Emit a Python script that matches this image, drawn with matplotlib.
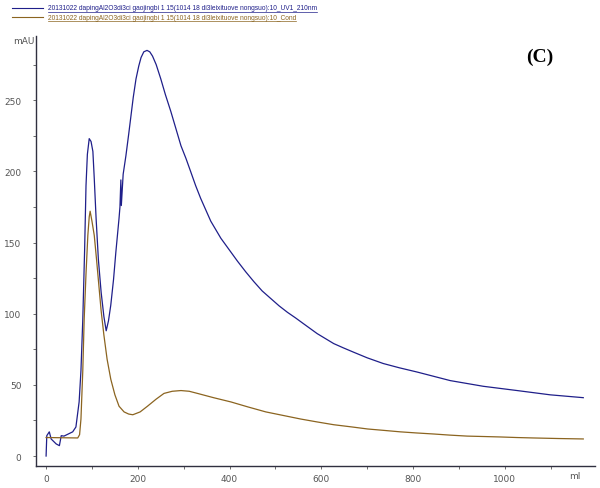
import matplotlib
matplotlib.use('Agg')
import matplotlib.pyplot as plt
from matplotlib.lines import Line2D
from matplotlib.ticker import MultipleLocator

# UV 210 nm trace (ml, mAU)
uv_ml = [0, 1.5, 7, 11, 22, 29, 33, 39, 58, 65, 72, 76, 80, 84, 87, 90, 94, 98, 102,
         105, 109, 114, 120, 126, 131, 136, 141, 147, 152, 159, 161, 163, 164, 168,
         174, 180, 185, 190, 196, 202, 207, 213, 220, 226, 232, 240, 250, 260, 272,
         283, 294, 305, 315, 326, 337, 348, 359, 370, 381, 399, 417, 435, 453, 471,
         490, 508, 526, 544, 561, 576, 591, 609, 627, 648, 670, 700, 735, 770, 809,
         845, 881, 917, 953, 990, 1027, 1063, 1099, 1135, 1171]
uv_mau = [0, 14.3, 17, 12, 8.5, 7.3, 14.3, 14, 17, 20.4, 38, 60, 96, 145, 190, 212,
          223, 221, 214, 195, 167, 138, 115, 98, 88, 95, 106, 124, 143, 167, 175, 194,
          176, 198, 211, 226, 239, 252, 265, 274, 280, 284, 285, 284, 281, 275, 265,
          254, 242, 230, 218, 209, 200, 190, 181, 173, 165, 159, 153, 145, 137, 129.5,
          122.5, 116, 110.6, 105.5, 101, 97, 93, 89.5, 86, 82.5, 79, 76, 73, 69, 65,
          62, 59, 56, 53, 51, 49, 47.5, 46, 44.5, 43, 42, 41]

# conductivity trace
cond_ml = [0, 69, 73, 76, 80, 83, 87, 91, 94, 96, 100, 105, 110, 115, 120, 126, 133,
           141, 150, 159, 170, 180, 189, 205, 221, 240, 257, 275, 294, 312, 330, 365,
           403, 440, 479, 517, 555, 590, 627, 665, 701, 737, 772, 808, 844, 880, 918,
           955, 990, 1026, 1062, 1117, 1171]
cond_val = [13, 12.7, 15, 26, 60, 96, 128, 155, 168, 172, 165, 155, 138, 120, 102, 85,
            68, 54, 43, 35, 31, 29.5, 29, 31, 35, 40, 44, 45.5, 46, 45.5, 44, 41, 38,
            34.5, 31, 28.5, 26, 24, 22, 20.5, 19, 18, 17, 16.2, 15.5, 14.7, 14, 13.7,
            13.4, 13, 12.7, 12.3, 12]

x_ticks = [0, 200, 400, 600, 800, 1000]
y_ticks = [0, 50, 100, 150, 200, 250]
uv_name = '20131022 dapingAl2O3di3ci gaojingbi 1 15(1014 18 di3leixituove nongsuo):10_UV1_210nm'
cond_name = '20131022 dapingAl2O3di3ci gaojingbi 1 15(1014 18 di3leixituove nongsuo):10_Cond'

uv_color = '#1f1f8a'
cond_color = '#8b6420'

fig = plt.figure(figsize=(6.0, 4.89), dpi=100)
ax = fig.add_axes([0.06, 0.045, 0.932, 0.879])

ax.plot(uv_ml, uv_mau, color=uv_color, lw=0.9)
ax.plot(cond_ml, cond_val, color=cond_color, lw=0.9)

ax.set_xlim(-22, 1197)
ax.set_ylim(-7, 295)
ax.set_xticks(x_ticks)
ax.set_yticks(y_ticks)
ax.xaxis.set_minor_locator(MultipleLocator(100))
ax.yaxis.set_minor_locator(MultipleLocator(25))
for s in ['top', 'right']:
    ax.spines[s].set_visible(False)
for s in ['left', 'bottom']:
    ax.spines[s].set_color('#303040')
    ax.spines[s].set_linewidth(1.0)
ax.tick_params(axis='both', which='both', direction='out', colors='#555555',
               labelsize=6.5, length=2.5, width=0.6)
ax.tick_params(axis='y', pad=8)
ax.tick_params(axis='x', pad=3)

fig.text(13 / 600, 1 - 42 / 489, 'mAU', fontsize=6.5, color='#555555', va='center')
fig.text(575 / 600, 1 - 477 / 489, 'ml', fontsize=6.5, color='#555555', ha='center', va='center')
fig.text(540 / 600, 1 - 57 / 489, '(C)', fontsize=14, fontweight='bold',
         family='Liberation Serif', ha='center', va='center')

# legend lines with underlined names
texts = []
for yy, name, col in [(9, uv_name, uv_color), (18, cond_name, cond_color)]:
    fy = 1 - yy / 489
    fig.add_artist(Line2D([12 / 600, 43 / 600], [fy, fy], color=col, lw=0.8))
    t = fig.text(48 / 600, fy, name, fontsize=4.75, color=col, va='center',
                 family='Liberation Sans')
    texts.append((t, col))

fig.canvas.draw()
r = fig.canvas.get_renderer()
for t, col in texts:
    bb = t.get_window_extent(renderer=r)
    uy = (bb.y0 - 0.5) / 489
    fig.add_artist(Line2D([bb.x0 / 600, bb.x1 / 600], [uy, uy], color=col, lw=0.5))

fig.savefig('out.png', dpi=100)
